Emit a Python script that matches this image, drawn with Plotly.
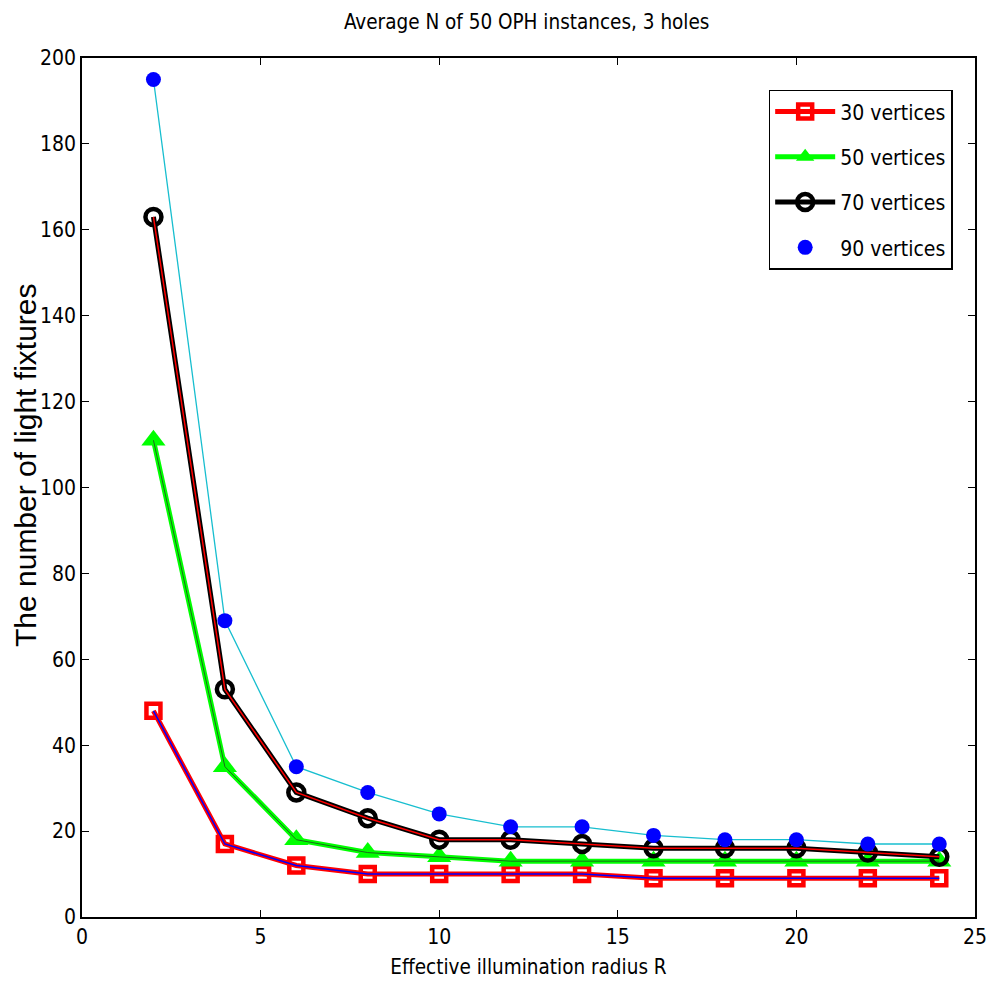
import plotly.graph_objects as go

R = [2, 4, 6, 8, 10, 12, 14, 16, 18, 20, 22, 24]
v30 = [48, 17, 12, 10, 10, 10, 10, 9, 9, 9, 9, 9]
v50 = [111, 35, 18, 15, 14, 13, 13, 13, 13, 13, 13, 13]
v70 = [163, 53, 29, 23, 18, 18, 17, 16, 16, 16, 15, 14]
v90 = [195, 69, 35, 29, 24, 21, 21, 19, 18, 18, 17, 17]

FONT = "DejaVu Sans Condensed, Liberation Sans Narrow, Arial Narrow, Liberation Sans, Arial"

fig = go.Figure()
# 30 vertices
fig.add_trace(go.Scatter(x=R, y=v30, mode="lines+markers", name="30 vertices", legendgroup="a",
                         line=dict(color="red", width=5),
                         marker=dict(symbol="square-open", size=14, color="red", line=dict(width=4.5, color="red"))))
fig.add_trace(go.Scatter(x=R, y=v30, mode="lines", showlegend=False, legendgroup="a",
                         line=dict(color="blue", width=1.5), hoverinfo="skip"))
# 50 vertices
fig.add_trace(go.Scatter(x=R, y=v50, mode="lines+markers", name="50 vertices", legendgroup="b",
                         line=dict(color="#00ff00", width=5),
                         marker=dict(symbol="triangle-up", size=21, color="#00ff00")))
fig.add_trace(go.Scatter(x=R, y=v50, mode="lines", showlegend=False, legendgroup="b",
                         line=dict(color="#1a6b1a", width=1), hoverinfo="skip"))
# 70 vertices
fig.add_trace(go.Scatter(x=R, y=v70, mode="lines+markers", name="70 vertices", legendgroup="c",
                         line=dict(color="black", width=5),
                         marker=dict(symbol="circle-open", size=16, color="black", line=dict(width=4.5, color="black"))))
fig.add_trace(go.Scatter(x=R, y=v70, mode="lines", showlegend=False, legendgroup="c",
                         line=dict(color="red", width=1.5), hoverinfo="skip"))
# 90 vertices
fig.add_trace(go.Scatter(x=R, y=v90, mode="lines", showlegend=False, legendgroup="d",
                         line=dict(color="#17becf", width=1.3), hoverinfo="skip"))
fig.add_trace(go.Scatter(x=R, y=v90, mode="markers", name="90 vertices", legendgroup="d",
                         marker=dict(symbol="circle", size=15, color="blue")))

axis_common = dict(showline=True, linecolor="black", linewidth=1.5, mirror="allticks",
                   ticks="inside", ticklen=7, tickcolor="black", showgrid=False, zeroline=False,
                   automargin=False,
                   tickfont=dict(family=FONT, size=21, color="black"))

fig.update_layout(
    width=990, height=999,
    paper_bgcolor="white", plot_bgcolor="white",
    margin=dict(l=82, r=15, t=58, b=82),
    title=dict(text="Average N of 50 OPH instances, 3 holes", x=0.532, xanchor="center",
               y=0.978, yanchor="middle", font=dict(family=FONT, size=20.5, color="black")),
    xaxis=dict(range=[0, 25], tickvals=[0, 5, 10, 15, 20, 25], **axis_common,
               title=dict(text="Effective illumination radius R", font=dict(family=FONT, size=20.5, color="black"), standoff=12)),
    yaxis=dict(range=[0, 200], tickvals=list(range(0, 201, 20)), **axis_common),
    annotations=[dict(text="The number of light fixtures", textangle=-90, showarrow=False,
                      xref="paper", yref="paper", x=-0.064, y=0.526, xanchor="center", yanchor="middle",
                      font=dict(family="Liberation Sans, Arial", size=30, color="black"))],
    legend=dict(x=0.975, xanchor="right", y=0.963, yanchor="top",
                bgcolor="white", bordercolor="black", borderwidth=1.5,
                font=dict(family=FONT, size=21, color="black"),
                itemwidth=60, tracegroupgap=15),
    showlegend=True,
)

fig.write_html("out.html")
